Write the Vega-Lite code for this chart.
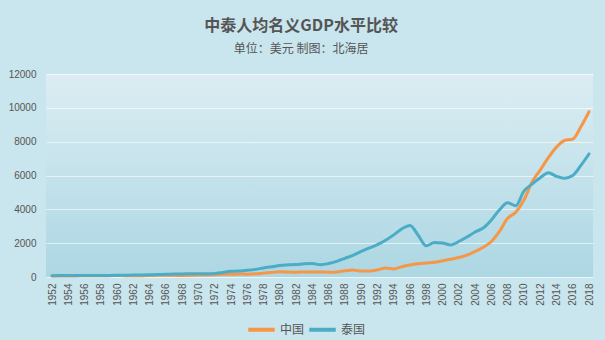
{
  "$schema": "https://vega.github.io/schema/vega-lite/v6.json",
  "width": 547,
  "height": 203,
  "padding": {"left": 8, "top": 18, "right": 15, "bottom": 5},
  "background": "#c9e5ed",
  "title": {
    "text": "中泰人均名义GDP水平比较",
    "subtitle": "单位：美元 制图：北海居",
    "anchor": "middle",
    "frame": "bounds",
    "font": "Noto Sans CJK SC",
    "fontSize": 16,
    "fontWeight": "bold",
    "color": "#555555",
    "subtitleFont": "Noto Sans CJK SC",
    "subtitleFontSize": 12,
    "subtitleColor": "#555555",
    "subtitlePadding": 10,
    "offset": 14
  },
  "config": {
    "view": {
      "stroke": null,
      "fill": {
        "gradient": "linear",
        "x1": 0, "y1": 0, "x2": 0, "y2": 1,
        "stops": [
          {"offset": 0, "color": "#dcedf3"},
          {"offset": 1, "color": "#acd7e3"}
        ]
      }
    }
  },
  "datasets": {
    "gdp": [
      {"year": 1952, "country": "中国", "gdp": 54},
      {"year": 1953, "country": "中国", "gdp": 62},
      {"year": 1954, "country": "中国", "gdp": 64},
      {"year": 1955, "country": "中国", "gdp": 66},
      {"year": 1956, "country": "中国", "gdp": 72},
      {"year": 1957, "country": "中国", "gdp": 73},
      {"year": 1958, "country": "中国", "gdp": 78},
      {"year": 1959, "country": "中国", "gdp": 80},
      {"year": 1960, "country": "中国", "gdp": 89},
      {"year": 1961, "country": "中国", "gdp": 76},
      {"year": 1962, "country": "中国", "gdp": 71},
      {"year": 1963, "country": "中国", "gdp": 74},
      {"year": 1964, "country": "中国", "gdp": 85},
      {"year": 1965, "country": "中国", "gdp": 98},
      {"year": 1966, "country": "中国", "gdp": 104},
      {"year": 1967, "country": "中国", "gdp": 97},
      {"year": 1968, "country": "中国", "gdp": 91},
      {"year": 1969, "country": "中国", "gdp": 100},
      {"year": 1970, "country": "中国", "gdp": 113},
      {"year": 1971, "country": "中国", "gdp": 119},
      {"year": 1972, "country": "中国", "gdp": 132},
      {"year": 1973, "country": "中国", "gdp": 157},
      {"year": 1974, "country": "中国", "gdp": 160},
      {"year": 1975, "country": "中国", "gdp": 178},
      {"year": 1976, "country": "中国", "gdp": 165},
      {"year": 1977, "country": "中国", "gdp": 185},
      {"year": 1978, "country": "中国", "gdp": 229},
      {"year": 1979, "country": "中国", "gdp": 273},
      {"year": 1980, "country": "中国", "gdp": 312},
      {"year": 1981, "country": "中国", "gdp": 292},
      {"year": 1982, "country": "中国", "gdp": 282},
      {"year": 1983, "country": "中国", "gdp": 297},
      {"year": 1984, "country": "中国", "gdp": 302},
      {"year": 1985, "country": "中国", "gdp": 294},
      {"year": 1986, "country": "中国", "gdp": 282},
      {"year": 1987, "country": "中国", "gdp": 302},
      {"year": 1988, "country": "中国", "gdp": 370},
      {"year": 1989, "country": "中国", "gdp": 407},
      {"year": 1990, "country": "中国", "gdp": 348},
      {"year": 1991, "country": "中国", "gdp": 359},
      {"year": 1992, "country": "中国", "gdp": 423},
      {"year": 1993, "country": "中国", "gdp": 525},
      {"year": 1994, "country": "中国", "gdp": 473},
      {"year": 1995, "country": "中国", "gdp": 610},
      {"year": 1996, "country": "中国", "gdp": 709},
      {"year": 1997, "country": "中国", "gdp": 782},
      {"year": 1998, "country": "中国", "gdp": 829},
      {"year": 1999, "country": "中国", "gdp": 873},
      {"year": 2000, "country": "中国", "gdp": 959},
      {"year": 2001, "country": "中国", "gdp": 1053},
      {"year": 2002, "country": "中国", "gdp": 1149},
      {"year": 2003, "country": "中国", "gdp": 1289},
      {"year": 2004, "country": "中国", "gdp": 1509},
      {"year": 2005, "country": "中国", "gdp": 1753},
      {"year": 2006, "country": "中国", "gdp": 2099},
      {"year": 2007, "country": "中国", "gdp": 2694},
      {"year": 2008, "country": "中国", "gdp": 3468},
      {"year": 2009, "country": "中国", "gdp": 3832},
      {"year": 2010, "country": "中国", "gdp": 4550},
      {"year": 2011, "country": "中国", "gdp": 5618},
      {"year": 2012, "country": "中国", "gdp": 6317},
      {"year": 2013, "country": "中国", "gdp": 7051},
      {"year": 2014, "country": "中国", "gdp": 7679},
      {"year": 2015, "country": "中国", "gdp": 8067},
      {"year": 2016, "country": "中国", "gdp": 8148},
      {"year": 2017, "country": "中国", "gdp": 8879},
      {"year": 2018, "country": "中国", "gdp": 9771},
      {"year": 1952, "country": "泰国", "gdp": 80},
      {"year": 1953, "country": "泰国", "gdp": 82},
      {"year": 1954, "country": "泰国", "gdp": 84},
      {"year": 1955, "country": "泰国", "gdp": 86},
      {"year": 1956, "country": "泰国", "gdp": 88},
      {"year": 1957, "country": "泰国", "gdp": 90},
      {"year": 1958, "country": "泰国", "gdp": 93},
      {"year": 1959, "country": "泰国", "gdp": 96},
      {"year": 1960, "country": "泰国", "gdp": 101},
      {"year": 1961, "country": "泰国", "gdp": 108},
      {"year": 1962, "country": "泰国", "gdp": 115},
      {"year": 1963, "country": "泰国", "gdp": 120},
      {"year": 1964, "country": "泰国", "gdp": 129},
      {"year": 1965, "country": "泰国", "gdp": 141},
      {"year": 1966, "country": "泰国", "gdp": 163},
      {"year": 1967, "country": "泰国", "gdp": 172},
      {"year": 1968, "country": "泰国", "gdp": 182},
      {"year": 1969, "country": "泰国", "gdp": 194},
      {"year": 1970, "country": "泰国", "gdp": 192},
      {"year": 1971, "country": "泰国", "gdp": 193},
      {"year": 1972, "country": "泰国", "gdp": 211},
      {"year": 1973, "country": "泰国", "gdp": 271},
      {"year": 1974, "country": "泰国", "gdp": 335},
      {"year": 1975, "country": "泰国", "gdp": 355},
      {"year": 1976, "country": "泰国", "gdp": 395},
      {"year": 1977, "country": "泰国", "gdp": 451},
      {"year": 1978, "country": "泰国", "gdp": 537},
      {"year": 1979, "country": "泰国", "gdp": 601},
      {"year": 1980, "country": "泰国", "gdp": 683},
      {"year": 1981, "country": "泰国", "gdp": 717},
      {"year": 1982, "country": "泰国", "gdp": 734},
      {"year": 1983, "country": "泰国", "gdp": 783},
      {"year": 1984, "country": "泰国", "gdp": 799},
      {"year": 1985, "country": "泰国", "gdp": 727},
      {"year": 1986, "country": "泰国", "gdp": 795},
      {"year": 1987, "country": "泰国", "gdp": 927},
      {"year": 1988, "country": "泰国", "gdp": 1105},
      {"year": 1989, "country": "泰国", "gdp": 1276},
      {"year": 1990, "country": "泰国", "gdp": 1509},
      {"year": 1991, "country": "泰国", "gdp": 1715},
      {"year": 1992, "country": "泰国", "gdp": 1918},
      {"year": 1993, "country": "泰国", "gdp": 2176},
      {"year": 1994, "country": "泰国", "gdp": 2491},
      {"year": 1995, "country": "泰国", "gdp": 2846},
      {"year": 1996, "country": "泰国", "gdp": 3044},
      {"year": 1997, "country": "泰国", "gdp": 2468},
      {"year": 1998, "country": "泰国", "gdp": 1846},
      {"year": 1999, "country": "泰国", "gdp": 2033},
      {"year": 2000, "country": "泰国", "gdp": 2008},
      {"year": 2001, "country": "泰国", "gdp": 1891},
      {"year": 2002, "country": "泰国", "gdp": 2097},
      {"year": 2003, "country": "泰国", "gdp": 2360},
      {"year": 2004, "country": "泰国", "gdp": 2660},
      {"year": 2005, "country": "泰国", "gdp": 2894},
      {"year": 2006, "country": "泰国", "gdp": 3369},
      {"year": 2007, "country": "泰国", "gdp": 3974},
      {"year": 2008, "country": "泰国", "gdp": 4386},
      {"year": 2009, "country": "泰国", "gdp": 4213},
      {"year": 2010, "country": "泰国", "gdp": 5076},
      {"year": 2011, "country": "泰国", "gdp": 5492},
      {"year": 2012, "country": "泰国", "gdp": 5861},
      {"year": 2013, "country": "泰国", "gdp": 6168},
      {"year": 2014, "country": "泰国", "gdp": 5951},
      {"year": 2015, "country": "泰国", "gdp": 5840},
      {"year": 2016, "country": "泰国", "gdp": 5994},
      {"year": 2017, "country": "泰国", "gdp": 6594},
      {"year": 2018, "country": "泰国", "gdp": 7274}
    ]
  },
  "data": {"name": "gdp"},
  "mark": {"type": "line", "interpolate": "monotone", "strokeWidth": 3, "strokeCap": "round", "strokeJoin": "round"},
  "encoding": {
    "x": {
      "field": "year",
      "type": "quantitative",
      "scale": {"domain": [1951.26, 2018.49], "nice": false, "zero": false},
      "axis": {
        "title": null,
        "values": [1952,1954,1956,1958,1960,1962,1964,1966,1968,1970,1972,1974,1976,1978,1980,1982,1984,1986,1988,1990,1992,1994,1996,1998,2000,2002,2004,2006,2008,2010,2012,2014,2016,2018],
        "format": "d",
        "labelAngle": 270,
        "labelAlign": "right",
        "labelBaseline": "middle",
        "labelFont": "Liberation Sans",
        "labelFontSize": 10,
        "labelColor": "#555555",
        "labelPadding": 6,
        "labelOverlap": false,
        "labelFlush": false,
        "ticks": false,
        "domain": false,
        "grid": false
      }
    },
    "y": {
      "field": "gdp",
      "type": "quantitative",
      "scale": {"domain": [0, 12000], "nice": false},
      "axis": {
        "title": null,
        "values": [0, 2000, 4000, 6000, 8000, 10000, 12000],
        "format": "d",
        "labelFont": "Liberation Sans",
        "labelFontSize": 10,
        "labelColor": "#555555",
        "labelPadding": 10,
        "ticks": false,
        "domain": false,
        "grid": true,
        "gridColor": "#ffffff",
        "gridOpacity": 0.6,
        "gridWidth": 1
      }
    },
    "color": {
      "field": "country",
      "type": "nominal",
      "scale": {"domain": ["中国", "泰国"], "range": ["#F79646", "#4BACC6"]},
      "legend": {
        "title": null,
        "orient": "none",
        "legendX": 200,
        "legendY": 240,
        "direction": "horizontal",
        "symbolType": "stroke",
        "symbolSize": 700,
        "symbolStrokeWidth": 4,
        "labelFont": "Noto Sans CJK SC",
        "labelFontSize": 12,
        "labelColor": "#555555",
        "columnPadding": -4,
        "labelOffset": 3
      }
    }
  }
}
